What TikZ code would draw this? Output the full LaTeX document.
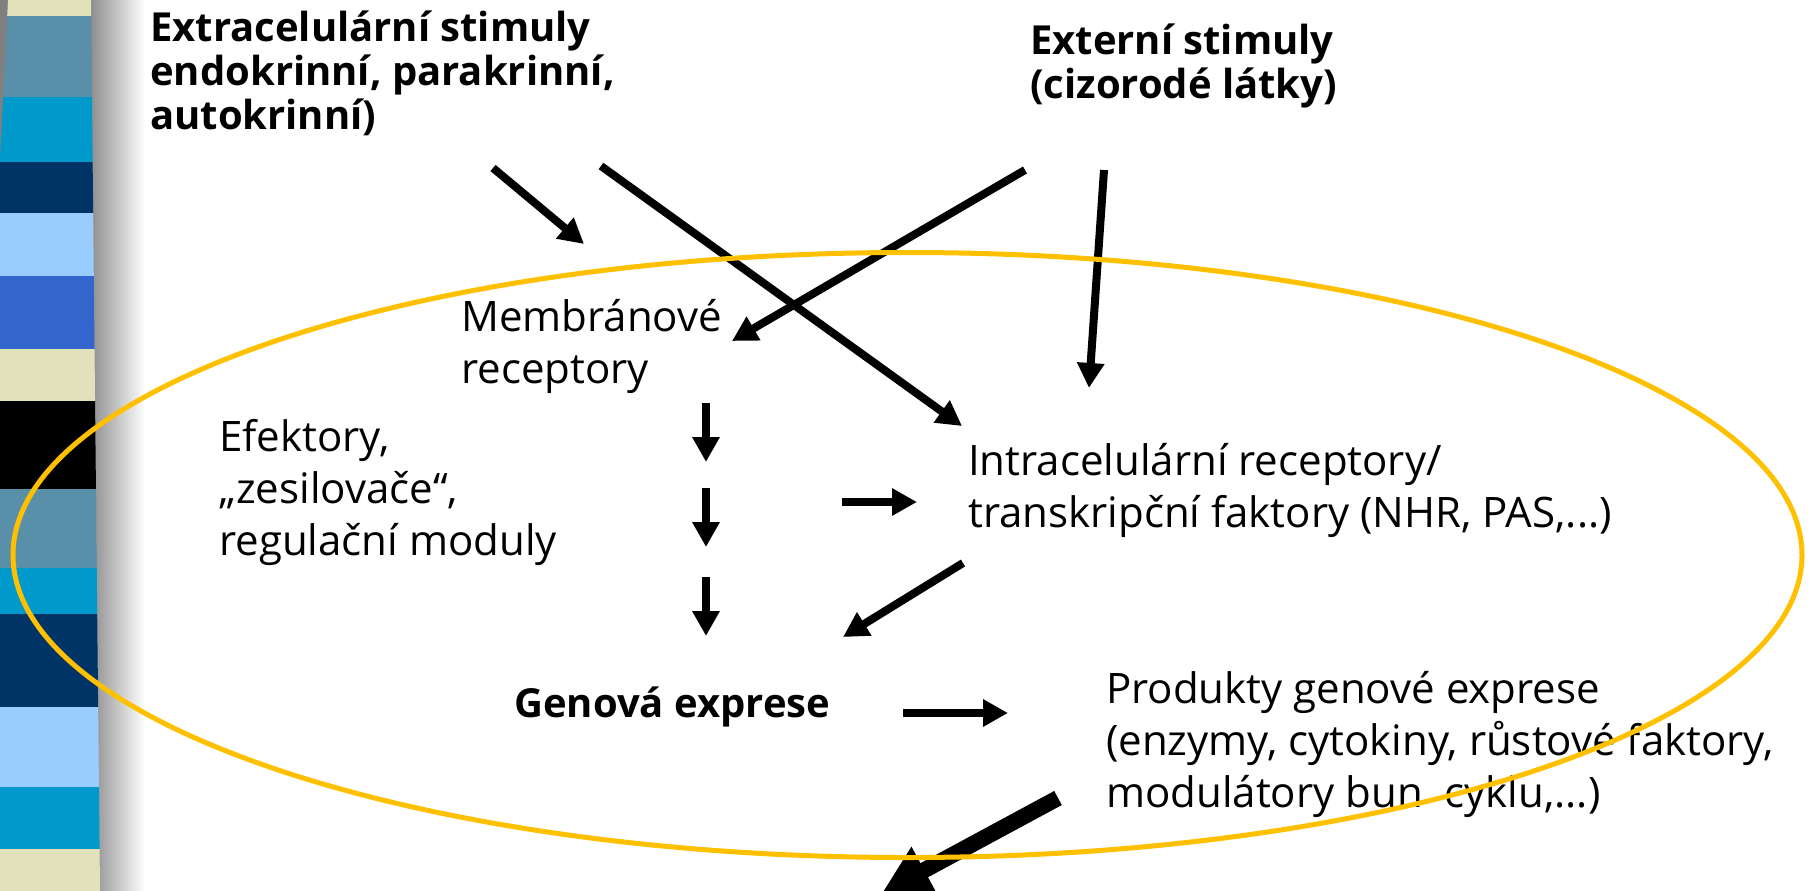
\documentclass[tikz,border=0pt]{standalone}
\usepackage{fontspec}
\setmainfont{Open Sans}
\usetikzlibrary{arrows.meta}
\definecolor{gold}{HTML}{FFC000}
\definecolor{beige}{HTML}{E1E1BC}
\definecolor{steel}{HTML}{5A8FA9}
\definecolor{cyanb}{HTML}{0099CC}
\definecolor{navy}{HTML}{003366}
\definecolor{lightb}{HTML}{99CCFF}
\definecolor{royal}{HTML}{3366CC}
\begin{document}
\begin{tikzpicture}[x=1pt,y=-1pt,
  txt/.style={anchor=base west, inner sep=0pt, align=left, font=\fontsize{42}{52}\selectfont},
  btxt/.style={anchor=base west, inner sep=0pt, align=left, font=\fontsize{40}{44}\selectfont\bfseries},
  arr/.style={line width=8pt, -{Triangle[length=25pt,width=26pt]}},
  bigarr/.style={line width=16pt, -{Triangle[length=48pt,width=50pt]}},
]
\useasboundingbox (0,0) rectangle (1820,891);
\fill[white] (0,0) rectangle (1820,891);
% side shadow
\shade[left color=gray!90, right color=white] (90,0) rectangle (145,891);
\fill[gray] (0,0) rectangle (12,170);
% stripes
\begin{scope}
\clip (8,0) -- (91,0) -- (100,891) -- (0,891) -- (0,160) -- cycle;
\foreach \a/\b/\c in {0/16/beige,16/97/steel,97/162/cyanb,162/213/navy,213/276/lightb,276/349/royal,349/401/beige,401/489/black,489/568/steel,568/614/cyanb,614/707/navy,707/787/lightb,787/849/cyanb,849/891/beige}
  \fill[\c] (0,\a) rectangle (110,\b);
\end{scope}

% texts (anchor = baseline of the last line)
\node[btxt] (extra) at (150,129) {Extracelulární stimuly\\endokrinní, parakrinní,\\autokrinní)};
\node[btxt] (extern) at (1030,99) {Externí stimuly\\(cizorodé látky)};
\node[txt] (membr) at (461,383) {Membránové\\receptory};
\node[txt] (efek) at (219,555) {Efektory,\\„zesilovače“,\\regulační moduly};
\node[txt] (intra) at (968,527) {Intracelulární receptory/\\transkripční faktory (NHR, PAS,...)};
\node[btxt] (gen) at (514,717) {Genová exprese};
\node[txt] (prod) at (1106,807) {Produkty genové exprese\\(enzymy, cytokiny, růstové faktory,\\modulátory bun\ \ cyklu,...)};

% arrow end points
\coordinate (a1s) at (493,168); \coordinate (a1e) at (584,244);
\coordinate (a2s) at (601,166); \coordinate (a2e) at (962,426);
\coordinate (a3s) at (1025,170); \coordinate (a3e) at (732,341);
\coordinate (a4s) at (1104,170); \coordinate (a4e) at (1089,388);
\coordinate (d1s) at (706,403); \coordinate (d1e) at (706,462);
\coordinate (d2s) at (706,488); \coordinate (d2e) at (706,547);
\coordinate (d3s) at (706,577); \coordinate (d3e) at (706,636);
\coordinate (r1s) at (842,502); \coordinate (r1e) at (917,502);
\coordinate (a7s) at (963,563); \coordinate (a7e) at (843,637);
\coordinate (r2s) at (903,713); \coordinate (r2e) at (1008,713);
\coordinate (bs) at (1058,798); \coordinate (be) at (882,893);

\draw[arr] (a1s) -- (a1e);
\draw[arr] (a2s) -- (a2e);
\draw[arr] (a3s) -- (a3e);
\draw[arr] (a4s) -- (a4e);
\draw[arr] (d1s) -- (d1e);
\draw[arr] (d2s) -- (d2e);
\draw[arr] (d3s) -- (d3e);
\draw[arr] (r1s) -- (r1e);
\draw[arr] (a7s) -- (a7e);
\draw[arr] (r2s) -- (r2e);
\draw[bigarr] (bs) -- (be);

% cell ellipse
\draw[gold, line width=5pt] (907.5,555) ellipse [x radius=894.5pt, y radius=302.5pt];
\end{tikzpicture}
\end{document}
